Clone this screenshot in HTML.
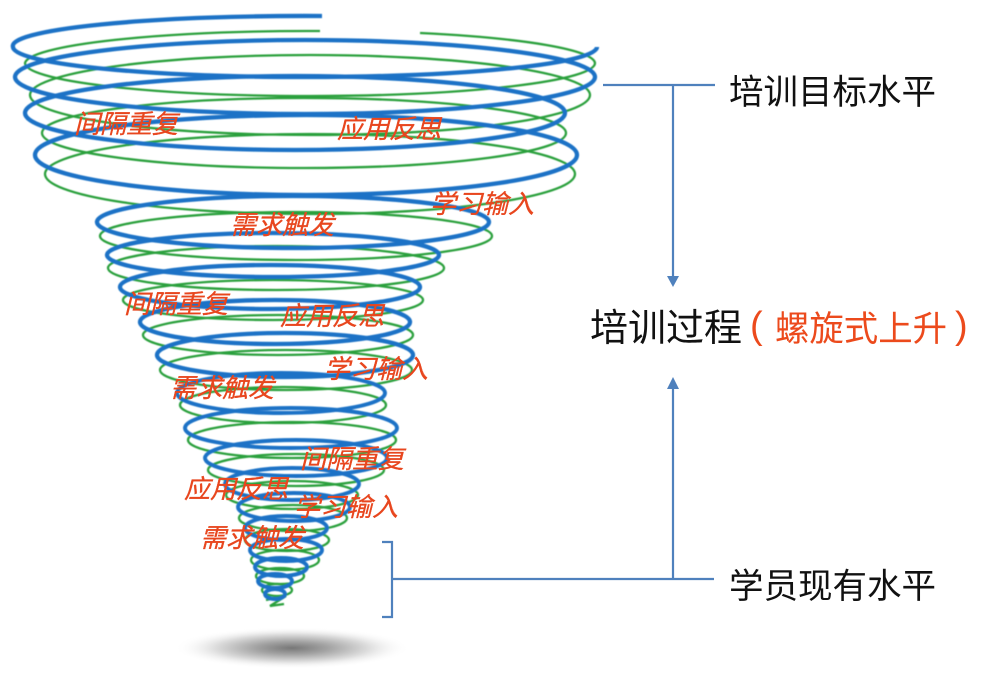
<!DOCTYPE html>
<html>
<head>
<meta charset="utf-8">
<style>
  html,body{margin:0;padding:0;background:#fff;}
  body{width:1000px;height:694px;overflow:hidden;}
  svg{display:block;}
</style>
</head>
<body>
<svg width="1000" height="694" viewBox="0 0 1000 694" xmlns="http://www.w3.org/2000/svg">
  <defs>
    <radialGradient id="sh" cx="50%" cy="50%" r="50%">
      <stop offset="0%" stop-color="#777777"/>
      <stop offset="30%" stop-color="#a2a2a2"/>
      <stop offset="65%" stop-color="#dddddd"/>
      <stop offset="100%" stop-color="#ffffff" stop-opacity="0"/>
    </radialGradient>
    <filter id="soft" x="-5%" y="-5%" width="110%" height="110%">
      <feGaussianBlur stdDeviation="0.6"/>
    </filter>
  </defs>

  <rect width="1000" height="694" fill="#ffffff"/>

  <!-- shadow -->
  <ellipse cx="292" cy="648" rx="118" ry="21" fill="url(#sh)"/>

  <g filter="url(#soft)">
    <!-- green loops -->
    <g fill="none" stroke="#2ca03c" stroke-width="2.3">
      <path d="M 320 31 A 285 33 0 0 0 25 63 A 285 33 0 0 0 595 63 A 285 33 0 0 0 420 33"/>
      <ellipse cx="310" cy="95" rx="280" ry="40"/>
      <ellipse cx="304" cy="133" rx="262" ry="35"/>
      <ellipse cx="310" cy="174" rx="265" ry="40"/>
      <ellipse cx="296" cy="236" rx="196" ry="24"/>
      <ellipse cx="276" cy="268" rx="168" ry="22"/>
      <ellipse cx="273" cy="300" rx="150" ry="20"/>
      <ellipse cx="278" cy="335" rx="135" ry="20"/>
      <ellipse cx="286" cy="370" rx="126" ry="20"/>
      <ellipse cx="283" cy="405" rx="103" ry="18"/>
      <ellipse cx="292" cy="440" rx="104" ry="18"/>
      <ellipse cx="296" cy="470" rx="88" ry="16"/>
      <ellipse cx="292" cy="495" rx="66" ry="14"/>
      <ellipse cx="293" cy="518" rx="54" ry="13"/>
      <ellipse cx="287" cy="540" rx="42" ry="11"/>
      <ellipse cx="285" cy="560" rx="34" ry="10"/>
      <ellipse cx="280" cy="576" rx="24" ry="8"/>
      <ellipse cx="277" cy="590" rx="15" ry="6"/>
      <path d="M 266 600 L 286 596 L 270 606 L 284 604"/>
    </g>
    <!-- blue loops -->
    <g fill="none" stroke="#1d72c6" stroke-width="4.3">
      <path d="M 322 16 A 292 30 0 0 0 13 47 A 292 30 0 0 0 597 47"/>
      <ellipse cx="305" cy="77" rx="290" ry="37"/>
      <ellipse cx="295" cy="113" rx="270" ry="37"/>
      <ellipse cx="306" cy="155" rx="271" ry="40"/>
      <ellipse cx="293" cy="222" rx="196" ry="26"/>
      <ellipse cx="273" cy="255" rx="166" ry="22"/>
      <ellipse cx="270" cy="287" rx="150" ry="22"/>
      <ellipse cx="275" cy="322" rx="135" ry="22"/>
      <ellipse cx="285" cy="355" rx="128" ry="22"/>
    </g>
    <g fill="none" stroke="#1d72c6" stroke-width="3.9">
      <ellipse cx="281" cy="393" rx="104" ry="20"/>
      <ellipse cx="291" cy="428" rx="106" ry="20"/>
      <ellipse cx="296" cy="458" rx="91" ry="18"/>
      <ellipse cx="292" cy="484" rx="67" ry="16"/>
      <ellipse cx="294" cy="507" rx="56" ry="14"/>
      <ellipse cx="286" cy="528" rx="41" ry="12"/>
      <ellipse cx="286" cy="550" rx="36" ry="11"/>
      <ellipse cx="281" cy="567" rx="26" ry="9"/>
      <ellipse cx="275" cy="581" rx="17" ry="7"/>
      <ellipse cx="275" cy="594" rx="10" ry="5"/>
    </g>
  </g>

  <!-- red labels -->
  <g font-family="'Liberation Sans','Noto Sans CJK SC',sans-serif" font-size="26" font-style="italic" fill="#e8461e" stroke="#e8461e" stroke-width="0.3">
    <text x="74" y="133">间隔重复</text>
    <text x="337" y="138">应用反思</text>
    <text x="430" y="213">学习输入</text>
    <text x="230" y="234">需求触发</text>
    <text x="124" y="313">间隔重复</text>
    <text x="280" y="325">应用反思</text>
    <text x="324" y="378">学习输入</text>
    <text x="170" y="397">需求触发</text>
    <text x="300" y="468">间隔重复</text>
    <text x="184" y="498">应用反思</text>
    <text x="294" y="516">学习输入</text>
    <text x="200" y="547">需求触发</text>
  </g>

  <!-- connectors -->
  <g stroke="#4f81bd" stroke-width="2.2" fill="none">
    <line x1="603" y1="85" x2="715" y2="85"/>
    <line x1="673" y1="85" x2="673" y2="278"/>
    <line x1="673" y1="387" x2="673" y2="579"/>
    <line x1="392" y1="579" x2="714" y2="579"/>
    <path d="M 382 542 L 392 542 L 392 617 L 382 617"/>
  </g>
  <g fill="#4f81bd">
    <polygon points="667,276 679,276 673,287"/>
    <polygon points="667,389 679,389 673,377"/>
  </g>

  <!-- right texts -->
  <g font-family="'Liberation Sans','Noto Sans CJK SC',sans-serif" fill="#111111">
    <text x="729" y="104" font-size="34.5">培训目标水平</text>
    <text x="590" y="341" font-size="38">培训过程</text>
    <text x="729" y="598" font-size="34.5">学员现有水平</text>
  </g>
  <g font-family="'Liberation Sans','Noto Sans CJK SC',sans-serif" fill="#ec4a1c">
    <text x="750" y="338" font-size="38">(</text>
    <text x="775" y="341" font-size="35" textLength="172" lengthAdjust="spacingAndGlyphs">螺旋式上升</text>
    <text x="955" y="338" font-size="38">)</text>
  </g>
</svg>
</body>
</html>
